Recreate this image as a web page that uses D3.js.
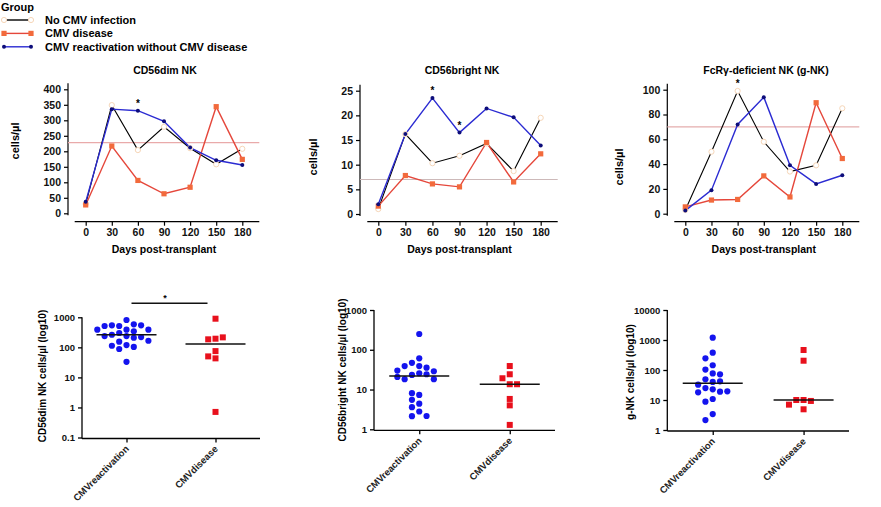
<!DOCTYPE html>
<html><head><meta charset="utf-8">
<script src="https://cdn.jsdelivr.net/npm/d3@7"></script>
<style>
body{margin:0;background:#fff;}
svg{display:block;font-family:Arial,"Liberation Sans",sans-serif;}
</style></head><body>
<svg id="chart" width="881" height="507"></svg>
<script>
// ---------- DATA ----------
const days = [0, 30, 60, 90, 120, 150, 180];
const groups = ["No CMV infection", "CMV disease", "CMV reactivation without CMV disease"];

const dimNoCMV   = [30, 349, 204, 279, 210, 158, 208];
const dimDisease = [27, 217, 106, 63, 84, 344, 174];
const dimReact   = [37, 336, 331, 297, 212, 171, 156];
const dimRef = 228;
const dimSigDays = [60];
const dimTicks = [0, 50, 100, 150, 200, 250, 300, 350, 400];

const brightNoCMV   = [1.0, 16.2, 10.3, 11.8, 14.3, 8.7, 19.5];
const brightDisease = [1.6, 7.8, 6.1, 5.5, 14.5, 6.5, 12.2];
const brightReact   = [2.0, 16.2, 23.5, 16.5, 21.4, 19.6, 13.9];
const brightRef = 7.0;
const brightSigDays = [60, 90];
const brightTicks = [0, 5, 10, 15, 20, 25];

const gnkNoCMV   = [3, 50, 99, 58, 34, 39, 85];
const gnkDisease = [5.5, 11, 11.5, 30.5, 13.5, 89.5, 44.5];
const gnkReact   = [2.5, 19, 72, 94, 39, 24, 31];
const gnkRef = 70;
const gnkSigDays = [60];
const gnkTicks = [0, 20, 40, 60, 80, 100];

const scatterCats = ["CMVreactivation", "CMVdisease"];
const dimScatReact   = [813, 513, 585, 541, 541, 513, 386, 341, 300, 386, 386, 263, 238, 220, 238, 209, 154, 166, 119, 103, 88, 113, 33];
const dimScatDisease = [898, 194, 185, 215, 75, 50, 43, 0.71];
const dimLogTicks = [0.1, 1, 10, 100, 1000];

const brightScatReact   = [249, 61, 47, 39, 35.5, 39, 25.7, 23.3, 28.8, 29.9, 24.2, 18.2, 18.2, 20.7, 7.3, 8.1, 5.5, 4.4, 3.6, 2.8, 2.14, 2.16];
const brightScatDisease = [39, 24.2, 19.2, 13.6, 13.6, 5.8, 4.0, 1.29];
const brightLogTicks = [1, 10, 100, 1000];

const gnkScatReact   = [1196, 378, 245, 144, 103, 77, 72, 49, 40, 42, 32.5, 25, 22.7, 19, 18, 19.5, 10.8, 8.8, 3.4, 2.15];
const gnkScatDisease = [464, 204, 10, 10, 9.3, 7.0, 4.9];
const gnkLogTicks = [1, 10, 100, 1000, 10000];

// ---------- STYLE ----------
const C = {
  black: "#000", redLine: "#e5473b", redMark: "#f26a3c",
  blueLine: "#2b2bd2", blueMark: "#0d0d7a",
  openStroke: "#f6d6b8",
  scBlue: "#1414ee", scRed: "#e8101c"
};
const svg = d3.select("#chart");
const font = "Arial, 'Liberation Sans', sans-serif";

// ---------- LEGEND ----------
const leg = svg.append("g");
leg.append("text").attr("x", 1).attr("y", 11).attr("font-size", 11).attr("font-weight", "bold").text("Group");
const legStyles = [
  {line: C.black, mark: "circle"},
  {line: C.redLine, mark: "square"},
  {line: C.blueLine, mark: "dot"}
];
function drawMarker(g, type, x, y) {
  if (type === "circle") g.append("circle").attr("cx", x).attr("cy", y).attr("r", 2.6).attr("fill", "#fff").attr("stroke", C.openStroke).attr("stroke-width", 1);
  else if (type === "square") g.append("rect").attr("x", x - 2.6).attr("y", y - 2.6).attr("width", 5.2).attr("height", 5.2).attr("fill", C.redMark);
  else g.append("circle").attr("cx", x).attr("cy", y).attr("r", 2).attr("fill", C.blueMark);
}
groups.forEach((gname, i) => {
  const y = 20 + i * 13.4;
  leg.append("line").attr("x1", 4).attr("x2", 31).attr("y1", y).attr("y2", y).attr("stroke", legStyles[i].line).attr("stroke-width", 1.4);
  drawMarker(leg, legStyles[i].mark, 4, y);
  drawMarker(leg, legStyles[i].mark, 31, y);
  leg.append("text").attr("x", 45).attr("y", y + 4).attr("font-size", 11).attr("font-weight", "bold").text(gname);
});

// ---------- TOP LINE PANELS ----------
const topPanels = [
  {title: "CD56dim NK", series: [dimNoCMV, dimDisease, dimReact], ref: dimRef, refColor: "#e9aaaa", sig: dimSigDays, ticks: dimTicks,
   max: 400, x0: 85.7, x1: 242.3, y0: 213.3, y1: 89.3, ax: 68, ylx: 15, yly: 141, tx: 165},
  {title: "CD56bright NK", series: [brightNoCMV, brightDisease, brightReact], ref: brightRef, refColor: "#cdb9b9", sig: brightSigDays, ticks: brightTicks,
   max: 25, x0: 378.3, x1: 540.7, y0: 214, y1: 90.7, ax: 360, ylx: 313, yly: 157, tx: 462},
  {title: "FcR\u03b3-deficient NK (g-NK)", series: [gnkNoCMV, gnkDisease, gnkReact], ref: gnkRef, refColor: "#e4adad", sig: gnkSigDays, ticks: gnkTicks,
   max: 100, x0: 685.3, x1: 842.3, y0: 213.7, y1: 89.7, ax: 667.3, ylx: 619, yly: 167, tx: 766}
];
const xAxisY = 221.7;

topPanels.forEach(p => {
  const g = svg.append("g");
  const x = d3.scaleLinear().domain([0, 180]).range([p.x0, p.x1]);
  const y = d3.scaleLinear().domain([0, p.max]).range([p.y0, p.y1]);

  const ya = g.append("g").attr("transform", `translate(${p.ax},0)`)
    .call(d3.axisLeft(y).tickValues(p.ticks).tickSize(4).tickPadding(3).tickSizeOuter(0));
  ya.select(".domain").attr("d", `M0,${p.y0 + 2}V${p.y1 - 6}`).attr("stroke-width", 1.2);
  ya.selectAll("text").attr("font-size", 10.5).attr("font-weight", "bold").attr("font-family", font).attr("fill", "#111");
  ya.selectAll(".tick line").attr("stroke-width", 1.2);

  const xa = g.append("g").attr("transform", `translate(0,${xAxisY})`)
    .call(d3.axisBottom(x).tickValues(days).tickSize(4).tickPadding(3).tickSizeOuter(0));
  xa.select(".domain").attr("d", `M${p.x0 - 11},0H${p.x1 + 17}`).attr("stroke-width", 1.2);
  xa.selectAll("text").attr("font-size", 10.5).attr("font-weight", "bold").attr("font-family", font).attr("fill", "#111");
  xa.selectAll(".tick line").attr("stroke-width", 1.2);

  g.append("line").attr("x1", p.ax).attr("x2", p.x1 + 17).attr("y1", y(p.ref)).attr("y2", y(p.ref))
    .attr("stroke", p.refColor).attr("stroke-width", 1.2);

  g.append("text").attr("x", p.tx).attr("y", 74).attr("text-anchor", "middle").attr("font-size", 10.5).attr("font-weight", "bold").text(p.title);
  g.append("text").attr("x", (p.x0 + p.x1) / 2).attr("y", 253).attr("text-anchor", "middle").attr("font-size", 10.5).attr("font-weight", "bold").text("Days post-transplant");
  g.append("text").attr("transform", `translate(${p.ylx},${p.yly}) rotate(-90)`).attr("text-anchor", "middle").attr("dy", "0.35em")
    .attr("font-size", 11).attr("font-weight", "bold").text("cells/\u00b5l");

  const line = d3.line().x((d, i) => x(days[i])).y(d => y(d));
  const lineColors = [C.black, C.redLine, C.blueLine];
  const marks = ["circle", "square", "dot"];
  p.series.forEach((s, si) => {
    g.append("path").datum(s).attr("d", line).attr("fill", "none").attr("stroke", lineColors[si]).attr("stroke-width", si === 0 ? 1.1 : 1.4);
  });
  p.series.forEach((s, si) => {
    s.forEach((v, i) => drawMarker(g, marks[si], x(days[i]), y(v)));
  });

  p.sig.forEach(d => {
    const i = days.indexOf(d);
    const top = d3.max(p.series, s => s[i]);
    g.append("text").attr("x", x(d)).attr("y", y(top) - 4).attr("text-anchor", "middle").attr("font-size", 10).attr("font-weight", "bold").text("*");
  });
});

// ---------- BOTTOM SCATTER PANELS ----------
const botPanels = [
  {label: "CD56dim NK cells/\u00b5l (log10)", react: dimScatReact, disease: dimScatDisease, ticks: dimLogTicks,
   ax: 82, axEnd: 260, yb: 437.5, yt: 317.3, ylx: 42, yly: 376, bar: true},
  {label: "CD56bright NK cells/\u00b5l (log10)", react: brightScatReact, disease: brightScatDisease, ticks: brightLogTicks,
   ax: 374, axEnd: 555, yb: 429.3, yt: 310, ylx: 342, yly: 370, bar: false},
  {label: "g-NK cells/\u00b5l (log10)", react: gnkScatReact, disease: gnkScatDisease, ticks: gnkLogTicks,
   ax: 667.3, axEnd: 849, yb: 430, yt: 310, ylx: 630, yly: 372, bar: false}
];

function swarm(values, y, cx, step, minDist) {
  const placed = [];
  return values.map(v => {
    const py = y(v);
    for (let k = 0; k < 30; k++) {
      const col = k === 0 ? 0 : (k % 2 ? -Math.ceil(k / 2) : Math.ceil(k / 2));
      if (!placed.some(q => q.col === col && Math.abs(q.y - py) < minDist)) {
        placed.push({col, y: py});
        return {v, x: cx + col * step, y: py};
      }
    }
  });
}

botPanels.forEach(p => {
  const g = svg.append("g");
  const y = d3.scaleLog().domain([p.ticks[0], p.ticks[p.ticks.length - 1]]).range([p.yb, p.yt]);
  const x = d3.scalePoint().domain(scatterCats).range([p.ax, p.axEnd]).padding(0.5);

  const ya = g.append("g").attr("transform", `translate(${p.ax},0)`)
    .call(d3.axisLeft(y).tickValues(p.ticks).tickFormat(d => String(d)).tickSize(4).tickPadding(3).tickSizeOuter(0));
  ya.select(".domain").attr("d", `M0,${p.yb + 1}V${p.yt}`).attr("stroke-width", 1.3);
  ya.selectAll("text").attr("font-size", 9.5).attr("font-weight", "bold").attr("font-family", font).attr("fill", "#111");
  ya.selectAll(".tick line").attr("stroke-width", 1.3);

  const xa = g.append("g").attr("transform", `translate(0,${p.yb + 1})`)
    .call(d3.axisBottom(x).tickSize(4).tickSizeOuter(0));
  xa.select(".domain").attr("d", `M${p.ax},0H${p.axEnd}`).attr("stroke-width", 1.3);
  xa.selectAll(".tick line").attr("stroke-width", 1.3);
  xa.selectAll("text").remove();
  scatterCats.forEach(c => {
    g.append("text").attr("transform", `translate(${x(c) + 3},${p.yb + 12}) rotate(-45)`)
      .attr("text-anchor", "end").attr("font-size", 9.5).attr("font-weight", "bold").attr("fill", "#222").text(c);
  });

  g.append("text").attr("transform", `translate(${p.ylx},${p.yly}) rotate(-90)`).attr("text-anchor", "middle").attr("dy", "0.35em")
    .attr("font-size", 10).attr("font-weight", "bold").text(p.label);

  const step = 7.3;
  const rPts = swarm(p.react, y, x(scatterCats[0]), step, 6.2);
  const dPts = swarm(p.disease, y, x(scatterCats[1]), step, 6.2);
  g.selectAll(".rb").data(rPts).join("circle").attr("cx", d => d.x).attr("cy", d => d.y).attr("r", 3.1).attr("fill", C.scBlue);
  g.selectAll(".rd").data(dPts).join("rect").attr("x", d => d.x - 3).attr("y", d => d.y - 3).attr("width", 6).attr("height", 6).attr("fill", C.scRed);

  [[p.react, scatterCats[0]], [p.disease, scatterCats[1]]].forEach(([vals, c]) => {
    const m = d3.median(vals);
    g.append("line").attr("x1", x(c) - 30).attr("x2", x(c) + 30).attr("y1", y(m)).attr("y2", y(m)).attr("stroke", "#111").attr("stroke-width", 1.5);
  });

  if (p.bar) {
    const barY = p.yt - 14;
    g.append("line").attr("x1", x(scatterCats[0]) + 5).attr("x2", x(scatterCats[1]) - 8).attr("y1", barY).attr("y2", barY).attr("stroke", "#111").attr("stroke-width", 1.6);
    g.append("text").attr("x", (x(scatterCats[0]) + x(scatterCats[1])) / 2 - 6).attr("y", barY - 2).attr("text-anchor", "middle").attr("font-size", 9).attr("font-weight", "bold").text("*");
  }
});
</script>
</body></html>
